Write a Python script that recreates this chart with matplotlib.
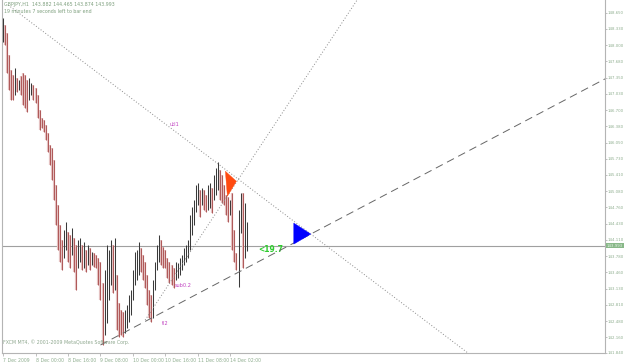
import numpy as np
import matplotlib
matplotlib.use("Agg")
from matplotlib import pyplot as plt
from matplotlib import transforms
from matplotlib.patches import Polygon

symbol = "GBPJPY,H1"
last_ohlc = [143.882, 144.465, 143.874, 143.993]
timer_text = "19 minutes 7 seconds left to bar end"
copyright_text = "FXCM MT4, \u00a9 2001-2009 MetaQuotes Software Corp."

# hourly bars (index 0 = 7 Dec 08:00)
highs = [148.55, 148.41, 148.25, 147.81, 147.51, 147.41, 147.55, 147.35, 147.31, 147.39,
         147.45, 147.41, 147.31, 147.35, 147.25, 147.21, 147.15, 147.01, 146.71, 146.55,
         146.51, 146.41, 146.25, 146.01, 145.95, 145.71, 145.21, 144.81, 144.41, 144.11,
         144.31, 144.47, 144.27, 144.21, 144.35, 144.15, 144.01, 144.11, 144.15, 144.01,
         144.07, 143.91, 144.01, 143.95, 143.87, 143.85, 143.81, 143.75, 143.67, 143.25,
         143.51, 144.01, 143.91, 144.11, 144.01, 144.15, 143.41, 142.85, 142.71, 142.67,
         142.71, 142.81, 143.01, 143.11, 143.51, 143.87, 143.91, 144.07, 143.95, 143.81,
         143.67, 143.41, 143.11, 143.01, 143.31, 143.67, 144.01, 144.21, 144.11, 143.97,
         143.91, 143.75, 143.67, 143.61, 143.55, 143.67, 143.65, 143.75, 143.81, 143.95,
         144.01, 144.11, 144.61, 144.77, 144.91, 145.21, 145.25, 145.11, 145.15, 145.11,
         145.01, 145.21, 145.25, 145.15, 145.41, 145.55, 145.67, 145.51, 145.41, 145.21,
         145.01, 144.97, 144.91, 145.05, 144.31, 143.85, 144.71, 145.05, 145.05, 144.85,
         144.465]
lows = [148.07, 148.01, 147.45, 147.11, 146.91, 146.91, 147.01, 147.07, 147.11, 147.01,
        146.81, 146.75, 146.67, 146.91, 147.01, 146.91, 146.85, 146.55, 146.31, 146.35,
        146.27, 146.11, 145.87, 145.61, 145.31, 144.91, 144.41, 143.91, 143.67, 143.51,
        143.75, 143.91, 143.67, 143.55, 143.81, 143.47, 143.11, 143.55, 143.67, 143.51,
        143.55, 143.47, 143.61, 143.51, 143.61, 143.57, 143.55, 143.21, 142.91, 142.01,
        142.21, 142.45, 142.91, 143.21, 143.05, 143.11, 142.31, 142.17, 142.21, 142.17,
        142.25, 142.35, 142.47, 142.61, 142.91, 143.21, 143.31, 143.41, 143.47, 143.31,
        143.15, 142.81, 142.55, 142.47, 142.55, 143.11, 143.51, 143.67, 143.61, 143.55,
        143.55, 143.35, 143.25, 143.21, 143.15, 143.31, 143.35, 143.41, 143.51, 143.61,
        143.67, 143.75, 143.91, 144.21, 144.41, 144.67, 144.81, 144.57, 144.81, 144.71,
        144.67, 144.71, 144.75, 144.65, 144.91, 145.01, 145.11, 144.91, 144.85, 144.81,
        144.61, 144.47, 144.61, 143.91, 143.67, 143.51, 143.17, 144.25, 143.55, 143.75,
        143.874]

price_ticks = [148.650, 148.330, 148.000, 147.680, 147.350, 147.030, 146.700, 146.380,
               146.050, 145.730, 145.410, 145.080, 144.760, 144.430, 144.110, 143.780,
               143.460, 143.130, 142.810, 142.480, 142.160, 141.840]
time_tick_bars = [0, 16, 32, 48, 64, 80, 96, 112]
time_tick_labels = ["7 Dec 2009", "8 Dec 00:00", "8 Dec 16:00", "9 Dec 08:00",
                    "10 Dec 00:00", "10 Dec 16:00", "11 Dec 08:00", "14 Dec 02:00"]

# trendline anchors (bar index, price)
utl1 = [(2.5, 148.81), (229.0, 141.84)]
utl2 = [(70.0, 142.50), (174.4, 148.91)]
tl2 = [(48.0, 142.00), (296.5, 147.33)]
spread_label = "<19.7"

XMIN, XMAX = -0.5, 296.5
YMIN, YMAX = 141.84, 148.91
W, H = 625, 363
AX_L, AX_B, AX_W, AX_H = 2, 10, 603, 353

txt_col = "#8fae8f"
axis_col = "#b4b4b4"


def line_at(line, x):
    (x1, y1), (x2, y2) = line
    return y1 + (y2 - y1) * (x - x1) / (x2 - x1)


def cross(a, b):
    (ax1, ay1), (ax2, ay2) = a
    (bx1, by1), (bx2, by2) = b
    ka = (ay2 - ay1) / (ax2 - ax1)
    kb = (by2 - by1) / (bx2 - bx1)
    x = (by1 - ay1 + ka * ax1 - kb * bx1) / (ka - kb)
    return x, ay1 + ka * (x - ax1)


fig = plt.figure(figsize=(W / 100, H / 100), dpi=100)
ax = fig.add_axes([AX_L / W, AX_B / H, AX_W / W, AX_H / H])
ax.set_xlim(XMIN, XMAX)
ax.set_ylim(YMIN, YMAX)

px_x = AX_W / (XMAX - XMIN)
px_y = AX_H / (YMAX - YMIN)

hi = np.array(highs)
lo = np.array(lows)
mid = (hi + lo) / 2
x = np.arange(len(hi))
up = np.r_[True, mid[1:] >= mid[:-1]]
up[-1] = last_ohlc[3] >= last_ohlc[0]
cols = np.where(up, "#3a3a3a", "#b05a5a")
ax.vlines(x[~up], lo[~up], hi[~up], colors="#e6c4c4", lw=1.6, zorder=2)
ax.vlines(x, lo, hi, colors=cols, lw=0.75, zorder=3)

# bid line
ax.axhline(last_ohlc[3], color="#a0a0a0", lw=0.8, zorder=1)

# trendlines drawn as rays to the right
for line, ls, c in [(utl1, (0, (1, 2)), "#8a8a8a"),
                    (utl2, (0, (1, 2)), "#8a8a8a"),
                    (tl2, (0, (8, 5)), "#666666")]:
    xs = np.array([line[0][0], XMAX])
    ax.plot(xs, line_at(line, xs), ls=ls, color=c, lw=0.7, zorder=4)

# arrow triangles at the crossings
def triangle(pt, offsets, color):
    cx, cy = pt
    verts = [(cx + dx / px_x, cy - dy / px_y) for dx, dy in offsets]
    ax.add_patch(Polygon(verts, closed=True, fc=color, ec=color, lw=0.3, zorder=5))


triangle(cross(utl1, utl2), [(-13, -8), (-2, 2), (-11, 17)], "#ff4a10")
triangle(cross(utl1, tl2), [(-17, -11), (0, 0), (-17, 10)], "#0000ff")

ax.text(82.3, 146.41, "utl1", fontsize=3.6, color="#c040c0", va="center")
ax.text(84.7, 143.20, "sub0.2", fontsize=3.6, color="#c040c0", va="center")
ax.text(78.3, 142.44, "tl2", fontsize=3.6, color="#c040c0", va="center")
ax.text(125.6, 143.92, spread_label, fontsize=5.5, color="#2ecc2e",
        fontweight="bold", va="center")

# axes styling
ax.spines["top"].set_visible(False)
for s in ["left", "right", "bottom"]:
    ax.spines[s].set_color(axis_col)
    ax.spines[s].set_linewidth(0.8)
ax.yaxis.tick_right()
ax.set_yticks(price_ticks)
ax.set_yticklabels([f"{p:.3f}" for p in price_ticks])
ax.tick_params(axis="y", direction="out", length=1.5, width=0.6, color=axis_col,
               labelcolor=txt_col, labelsize=2.8, pad=0.5)
ax.set_xticks(time_tick_bars)
ax.set_xticklabels(time_tick_labels, ha="left")
ax.tick_params(axis="x", direction="out", length=2, width=0.6, color=axis_col,
               labelcolor=txt_col, labelsize=3.3, pad=1.5)

# bid price box on the axis
bt = transforms.blended_transform_factory(ax.transAxes, ax.transData)
ax.text(1.003, last_ohlc[3], f"{last_ohlc[3]:.3f}", transform=bt, fontsize=2.8,
        color="#e8f4e8", va="center", ha="left", clip_on=False,
        bbox=dict(fc="#88b888", ec="none", pad=0.4))

header = symbol + "  " + " ".join(f"{v:.3f}" for v in last_ohlc)
fig.text(4 / W, 1 - 2 / H, header, fontsize=3.4, color="#7fa07f", va="top")
fig.text(4 / W, 1 - 9 / H, timer_text, fontsize=3.4, color="#7fa07f", va="top")
fig.text(3 / W, 1 - 342 / H, copyright_text, fontsize=3.4, color="#8fa88f", va="center")

fig.savefig("out.png", dpi=100, facecolor="white")
